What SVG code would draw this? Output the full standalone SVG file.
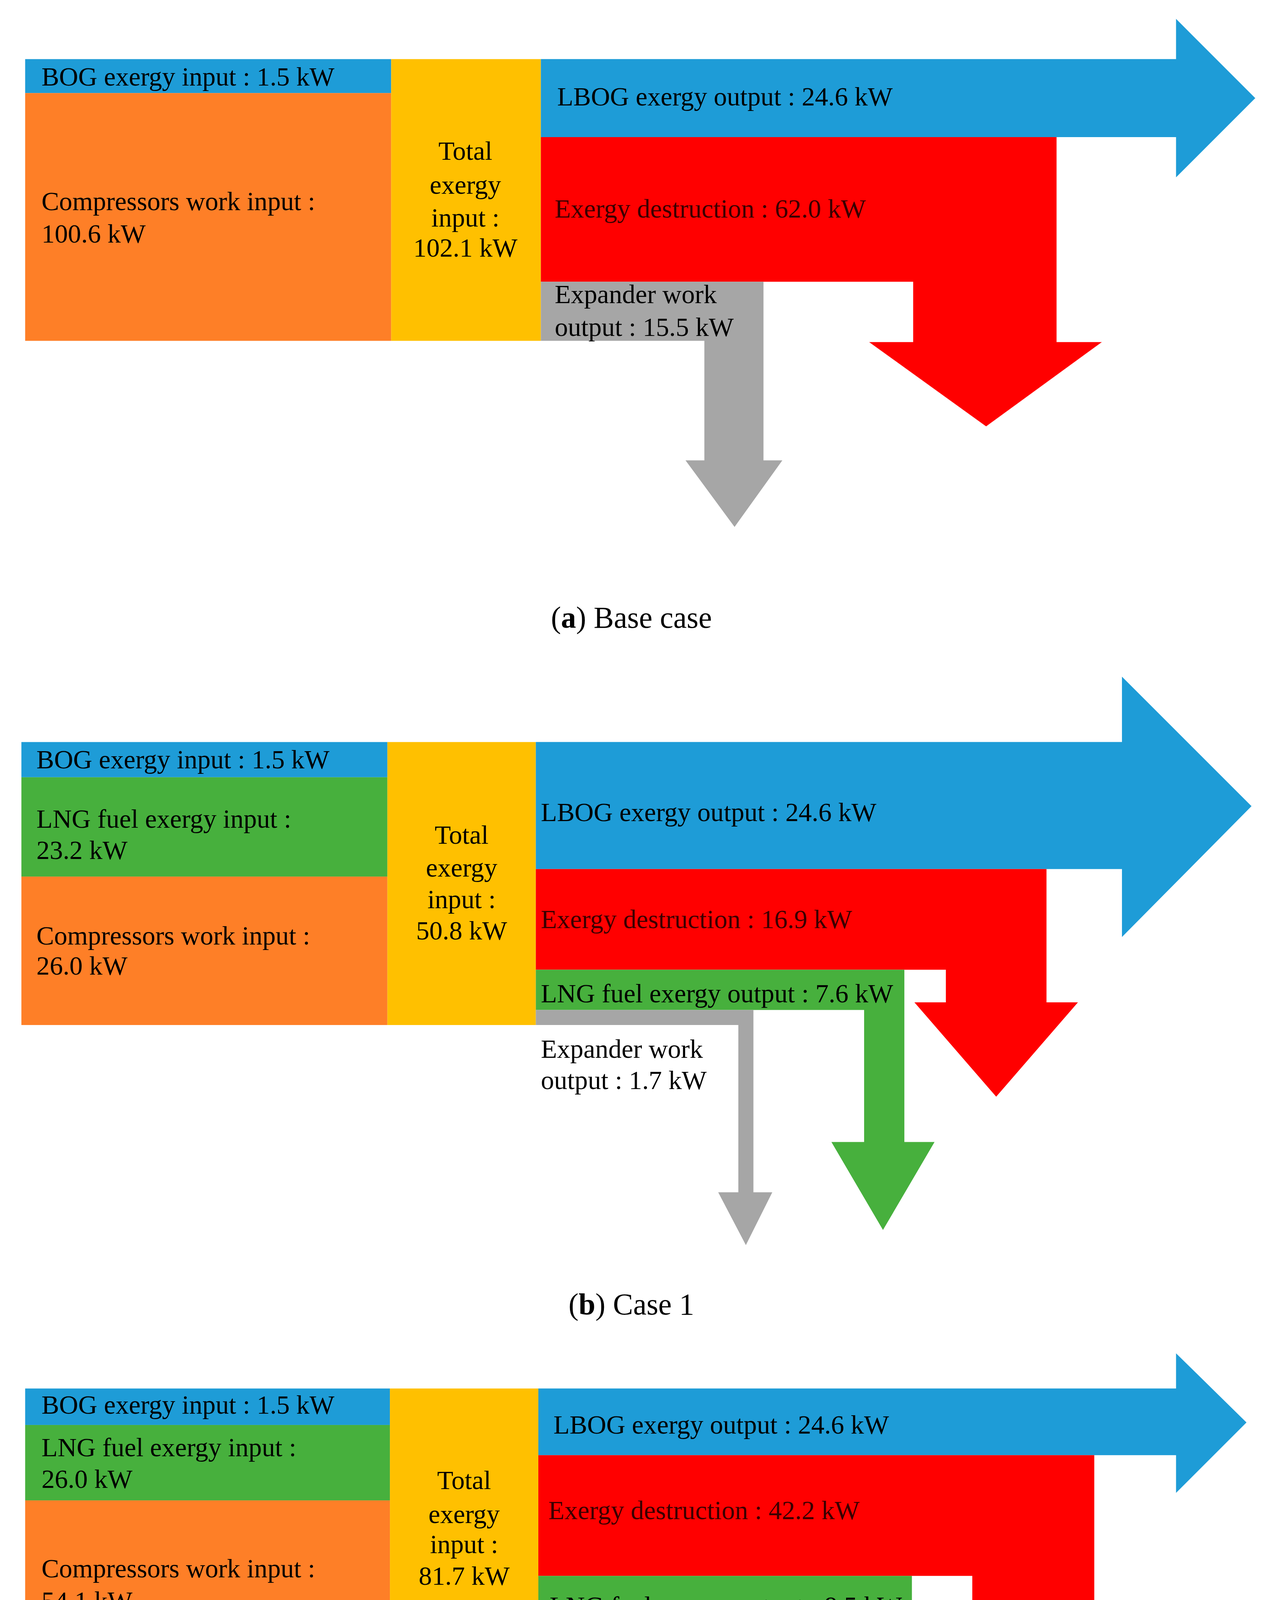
<svg xmlns="http://www.w3.org/2000/svg" width="3297" height="5073" viewBox="0 0 3297 5073">
<style>
text{font-family:"Liberation Serif","Times New Roman",serif;font-size:21px;fill:#000}
.c{text-anchor:middle}
.cap{font-size:24px;text-anchor:middle}
.blue{fill:#1E9CD7}.org{fill:#FE7F27}.yel{fill:#FFC000}.red{fill:#FF0000}.gry{fill:#A6A6A6}.grn{fill:#47B03D}
.dr{fill:#3a0000}
</style>
<rect width="3297" height="5073" fill="#fff"/>
<g transform="scale(3.2197)">
<!-- Panel a -->
<g id="a-inputs">
<rect class="blue" x="20" y="47" width="291" height="27"/>
<rect class="org" x="20" y="74" width="291" height="197"/>
<text x="33" y="68">BOG exergy input : 1.5 kW</text>
<text x="33" y="167">Compressors work input :</text>
<text x="33" y="193">100.6 kW</text>
</g>
<g id="a-total">
<rect class="yel" x="311" y="47" width="119" height="224"/>
<text class="c" x="370" y="127">Total</text><text class="c" x="370" y="154">exergy</text><text class="c" x="370" y="180">input :</text><text class="c" x="370" y="204">102.1 kW</text>
</g>
<g id="a-outputs">
<polygon class="blue" points="430,47 935,47 935,15 998,78 935,141 935,109 430,109"/>
<polygon class="red" points="430,109 840,109 840,272 876,272 784,339 691,272 726,272 726,224 430,224"/>
<polygon class="gry" points="430,224 607,224 607,366 622,366 584,419 545,366 560,366 560,271 430,271"/>
<text x="443" y="84">LBOG exergy output : 24.6 kW</text>
<text class="dr" x="441" y="173">Exergy destruction : 62.0 kW</text>
<text x="441" y="241">Expander work</text><text x="441" y="267">output : 15.5 kW</text>
</g>
<text class="cap" x="502" y="499">(<tspan font-weight="bold">a</tspan>) Base case</text>

<!-- Panel b -->
<g id="b-inputs">
<rect class="blue" x="17" y="590" width="291" height="28"/>
<rect class="grn" x="17" y="618" width="291" height="79"/>
<rect class="org" x="17" y="697" width="291" height="118"/>
<text x="29" y="611">BOG exergy input : 1.5 kW</text>
<text x="29" y="658">LNG fuel exergy input :</text><text x="29" y="683">23.2 kW</text>
<text x="29" y="751">Compressors work input :</text><text x="29" y="775">26.0 kW</text>
</g>
<g id="b-total">
<rect class="yel" x="308" y="590" width="118" height="225"/>
<text class="c" x="367" y="671">Total</text><text class="c" x="367" y="697">exergy</text><text class="c" x="367" y="722">input :</text><text class="c" x="367" y="747">50.8 kW</text>
</g>
<g id="b-outputs">
<polygon class="blue" points="426,590 892,590 892,538 995,641 892,745 892,691 426,691"/>
<polygon class="red" points="426,691 832,691 832,797 857,797 792,872 727,797 752,797 752,771 426,771"/>
<polygon class="grn" points="426,771 719,771 719,908 743,908 702,978 661,908 687,908 687,803 426,803"/>
<polygon class="gry" points="426,803 599,803 599,948 614,948 593,990 571,948 587,948 587,815 426,815"/>
<text x="430" y="653">LBOG exergy output : 24.6 kW</text>
<text class="dr" x="430" y="738">Exergy destruction : 16.9 kW</text>
<text x="430" y="797">LNG fuel exergy output : 7.6 kW</text>
<text x="430" y="841">Expander work</text><text x="430" y="866">output : 1.7 kW</text>
</g>
<text class="cap" x="502" y="1045">(<tspan font-weight="bold">b</tspan>) Case 1</text>

<!-- Panel c -->
<g id="c-inputs">
<rect class="blue" x="20" y="1104" width="290" height="29"/>
<rect class="grn" x="20" y="1133" width="290" height="60"/>
<rect class="org" x="20" y="1193" width="290" height="135"/>
<text x="33" y="1124">BOG exergy input : 1.5 kW</text>
<text x="33" y="1158">LNG fuel exergy input :</text><text x="33" y="1183">26.0 kW</text>
<text x="33" y="1254">Compressors work input :</text><text x="33" y="1280">54.1 kW</text>
</g>
<g id="c-total">
<rect class="yel" x="310" y="1104" width="118" height="224"/>
<text class="c" x="369" y="1184">Total</text><text class="c" x="369" y="1211">exergy</text><text class="c" x="369" y="1235">input :</text><text class="c" x="369" y="1260">81.7 kW</text>
</g>
<g id="c-outputs">
<polygon class="blue" points="428,1104 935,1104 935,1076 991,1131 935,1187 935,1157 428,1157"/>
<polygon class="red" points="428,1157 870,1157 870,1276 896,1276 822,1360 748,1276 773,1276 773,1253 428,1253"/>
<polygon class="grn" points="428,1253 725,1253 725,1377 743,1377 702,1457 661,1377 681,1377 681,1298 428,1298"/>
<polygon class="gry" points="428,1298 612,1298 612,1434 636,1434 597,1505 558,1434 583,1434 583,1328 428,1328"/>
<text x="440" y="1140">LBOG exergy output : 24.6 kW</text>
<text class="dr" x="436" y="1208">Exergy destruction : 42.2 kW</text>
<text x="437" y="1284">LNG fuel exergy output : 8.5 kW</text>
<text x="437" y="1359">Expander work</text><text x="437" y="1385">output : 6.4 kW</text>
</g>
<text class="cap" x="502" y="1549">(<tspan font-weight="bold">c</tspan>) Case 2</text>
</g>
</svg>
